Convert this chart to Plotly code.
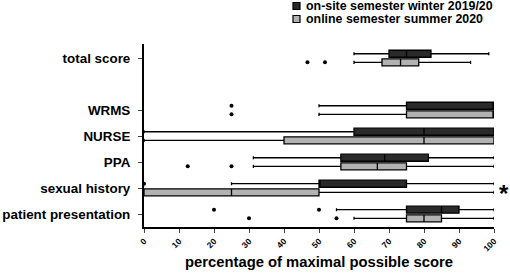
import plotly.graph_objects as go

categories = ["patient presentation", "sexual history", "PPA", "NURSE", "WRMS", "total score"]
cat_pos = [0, 1, 2, 3, 4, 6]

series_names = ["on-site semester winter 2019/20", "online semester summer 2020"]

# on-site (dark)
onsite_low = [55, 25, 31.25, 0, 50, 60]
onsite_q1 = [75, 50, 56.25, 60, 75, 70]
onsite_med = [85, 50, 68.75, 80, 100, 75]
onsite_q3 = [90, 75, 81.25, 100, 100, 82]
onsite_high = [100, 100, 100, 100, 100, 98.5]
onsite_out_cat = ["patient presentation", "patient presentation", "sexual history", "WRMS"]
onsite_out_val = [20, 50, 0, 25]

# online (light)
online_low = [60, 0, 31.25, 0, 50, 60]
online_q1 = [75, 0, 56.25, 40, 75, 68]
online_med = [80, 25, 66.67, 80, 100, 73.3]
online_q3 = [85, 50, 75, 100, 100, 78.5]
online_high = [100, 100, 100, 100, 100, 93.3]
online_out_cat = ["patient presentation", "patient presentation", "PPA", "PPA", "WRMS", "total score", "total score"]
online_out_val = [30, 55, 12.5, 25, 25, 46.7, 51.7]

x_ticks = [0, 10, 20, 30, 40, 50, 60, 70, 80, 90, 100]

pos_of = dict(zip(categories, cat_pos))
off = 0.165
box_w = 0.27
colors = ["#2a2a2a", "#b2b2b2"]

fig = go.Figure()
specs = [
    (onsite_low, onsite_q1, onsite_med, onsite_q3, onsite_high, onsite_out_cat, onsite_out_val, +off, colors[0], series_names[0]),
    (online_low, online_q1, online_med, online_q3, online_high, online_out_cat, online_out_val, -off, colors[1], series_names[1]),
]
for lo, q1, med, q3, hi, oc, ov, o, col, name in specs:
    fig.add_trace(go.Box(
        name=name, orientation="h",
        y=[p + o for p in cat_pos],
        q1=q1, median=med, q3=q3, lowerfence=lo, upperfence=hi,
        width=box_w, whiskerwidth=0.45,
        fillcolor=col, line=dict(color="black", width=1.3),
        boxpoints=False, showlegend=False, hoverinfo="skip",
    ))
    fig.add_trace(go.Scatter(
        x=ov, y=[pos_of[c] + o for c in oc], mode="markers",
        marker=dict(color="black", size=4), showlegend=False, cliponaxis=False,
        hoverinfo="skip",
    ))

# manual legend (squares + labels)
leg_x = 293
leg_y = [6.0, 19.0]
for i, (name, col) in enumerate(zip(series_names, colors)):
    y_px = leg_y[i]
    fig.add_shape(type="rect", xref="paper", yref="paper",
                  x0=(leg_x - 144) / 350, x1=(leg_x + 7 - 144) / 350,
                  y0=(227 - (y_px + 3.5)) / 183, y1=(227 - (y_px - 3.5)) / 183,
                  fillcolor=col, line=dict(color="black", width=1.2))
    fig.add_annotation(xref="paper", yref="paper", x=(leg_x + 11 - 144) / 350,
                       y=(227 - y_px) / 183, xanchor="left", yanchor="middle",
                       text=name, showarrow=False,
                       font=dict(size=12.4, weight="bold", color="black", family="Liberation Sans"))

fig.add_annotation(x=100, y=0.8, xref="x", yref="y", text="*", showarrow=False,
                   xshift=10, font=dict(size=24, color="black", family="Liberation Sans"))

fig.update_layout(
    width=510, height=273,
    margin=dict(l=144, r=16, t=44, b=46, autoexpand=False),
    plot_bgcolor="white", paper_bgcolor="white",
    font=dict(family="Liberation Sans, Arial", color="black", weight="bold"),
    showlegend=False,
    boxmode="overlay",
)
fig.update_xaxes(range=[0, 100], tickvals=x_ticks, ticktext=[str(t) for t in x_ticks],
                 tickangle=-45, tickfont=dict(size=8.5, weight="bold"),
                 showline=True, linecolor="black", linewidth=2, ticks="outside", ticklen=4,
                 tickwidth=1, showgrid=False, zeroline=False, automargin=False,
                 title=dict(text="percentage of maximal possible score", font=dict(size=14.8, weight="bold"), standoff=4))
fig.update_yaxes(range=[-0.5, 6.54], tickvals=cat_pos, ticktext=categories,
                 tickfont=dict(size=13.4, weight="bold"), automargin=False, ticklabelstandoff=5,
                 showline=True, linecolor="black", linewidth=2, ticks="outside", ticklen=4,
                 showgrid=False, zeroline=False)

fig.write_html("out.html", config={"displayModeBar": False},
               post_script="document.body.style.margin='0';document.body.style.overflow='hidden';")
